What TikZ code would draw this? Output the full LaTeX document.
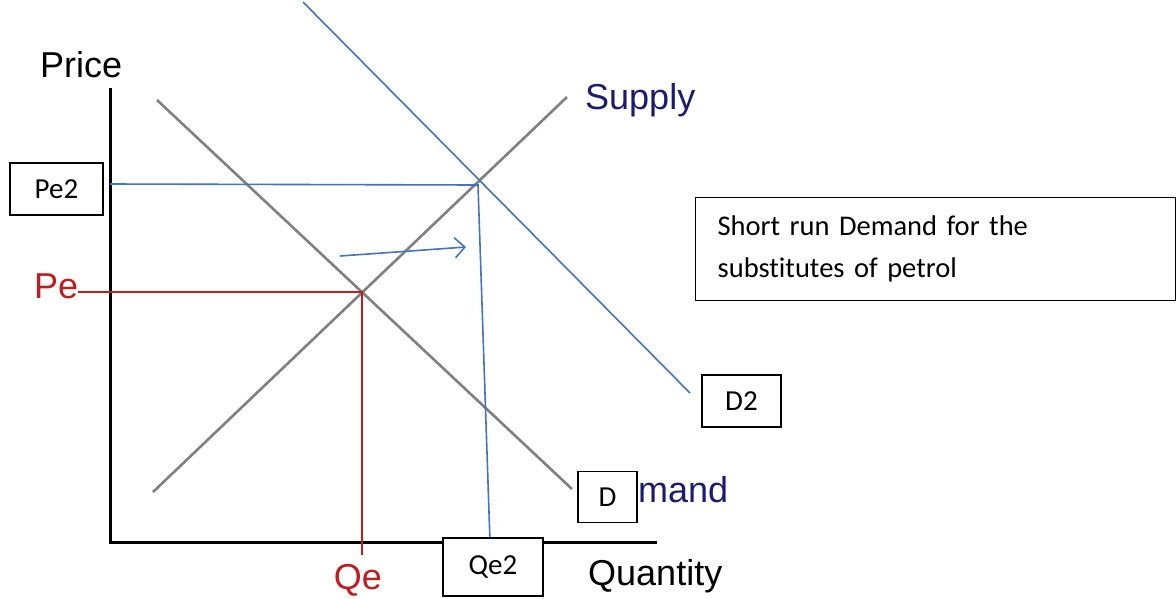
\documentclass[tikz,border=0pt]{standalone}
\usepackage{fontspec}
\setmainfont{Liberation Sans}
\newfontfamily\boxfont[Ligatures=NoCommon]{Carlito}
\usetikzlibrary{arrows.meta}

\definecolor{curvegray}{RGB}{128,128,128}
\definecolor{shiftblue}{RGB}{68,114,196}
\definecolor{eqred}{RGB}{192,30,30}
\definecolor{labelnavy}{RGB}{28,28,110}

\begin{document}
\begin{tikzpicture}[
    x=1pt, y=-1pt,
    axis/.style={line width=3pt, black},
    curve/.style={line width=2.6pt, curvegray},
    shiftline/.style={line width=1.6pt, shiftblue},
    eqline/.style={line width=1.4pt, eqred},
    axislabel/.style={font=\fontsize{36}{40}\selectfont, inner sep=0pt},
    tag/.style={draw, line width=1.3pt, fill=white, inner sep=0pt,
                font=\boxfont\fontsize{29}{35}\selectfont},
]
\useasboundingbox (0,0) rectangle (1176,598);

% === Axes ===
\coordinate (origin) at (110,542);
\coordinate (ytop)   at (110,88);
\coordinate (xend)   at (657,542);
\draw[axis] (ytop) -- (origin) -- (xend);

% === Supply and demand curves ===
\coordinate (supA) at (153,492);
\coordinate (supB) at (567,97);
\coordinate (demA) at (157,100);
\coordinate (demB) at (572,489);
\draw[curve] (supA) -- (supB);
\draw[curve] (demA) -- (demB);

% === Original equilibrium ===
\coordinate (eq)  at (362,292);
\coordinate (peY) at (78,292);
\coordinate (qeX) at (362,555);
\draw[eqline] (peY) -- (eq) -- (qeX);

% === Shifted demand D2 ===
\coordinate (dtwoA) at (303,2);
\coordinate (dtwoB) at (690,393);
\draw[shiftline] (dtwoA) -- (dtwoB);

% new equilibrium
\coordinate (eqtwo)  at (478,185);
\coordinate (petwoY) at (110,184);
\coordinate (qetwoX) at (490,542);
\draw[shiftline] (petwoY) -- (eqtwo) -- (qetwoX);

% shift arrow
\coordinate (shiftA) at (340,256);
\coordinate (shiftB) at (466,247);
\draw[shiftline, -{Straight Barb[length=10pt, width=20pt]}] (shiftA) -- (shiftB);

% === Axis labels ===
\node[axislabel, anchor=base west] (price) at (40,77) {Price};
\node[axislabel, anchor=base west] (qty) at (588,585) {Quantity};
\node[axislabel, anchor=base west, text=labelnavy] (supply) at (585,109) {Supply};
\node[axislabel, anchor=base west, text=labelnavy] (demand) at (638,502) {mand};
\node[axislabel, anchor=base west, text=eqred] (pe) at (34,298) {Pe};
\node[axislabel, anchor=base, text=eqred] (qe) at (358,589) {Qe};

% === Text boxes ===
\node[tag, minimum width=93pt, minimum height=52pt] (petwo) at (56.5,189) {Pe2};
\node[tag, minimum width=79pt, minimum height=52pt] (dtwo) at (741.5,401) {D2};
\node[tag, minimum width=59pt, minimum height=51pt] (dlab) at (607.5,497) {D};
\node[tag, minimum width=100pt, minimum height=58pt] (qetwo) at (493,567) {Qe2};
\node[tag, anchor=north west, minimum width=480pt, minimum height=103pt,
      text width=436pt, inner xsep=22pt, align=left,
      font=\boxfont\fontsize{28.5}{42}\selectfont] (note) at (695,197)
    {Short run Demand for the\\substitutes of petrol};

\end{tikzpicture}
\end{document}
